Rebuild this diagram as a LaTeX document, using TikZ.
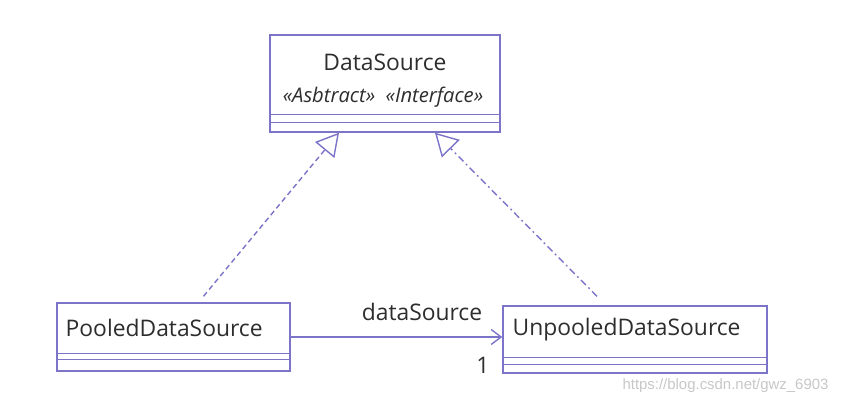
\documentclass[tikz,border=0pt]{standalone}
\usepackage{fontspec}
\setmainfont{Open Sans}
\newfontfamily\marcafont{Liberation Sans}
\usepackage{xcolor}
\usepackage{tikz}
\usetikzlibrary{arrows.meta}

\definecolor{umlazul}{RGB}{123,116,201}
\definecolor{umltexto}{RGB}{45,45,45}

\begin{document}
\begin{tikzpicture}[x=0.02cm, y=-0.02cm, line width=0.8pt,
    clase/.style={draw=umlazul, rectangle, inner sep=0pt},
    separa/.style={draw=umlazul},
    texto/.style={text=umltexto, font=\fontsize{13}{15}\selectfont, inner sep=0pt},
    realiza/.style={draw=umlazul, dash pattern=on 3pt off 2pt, -{Triangle[open, length=0.45cm, width=0.5cm]}},
    asocia/.style={draw=umlazul, -{Straight Barb[length=0.2cm, width=0.3cm]}}]
        \useasboundingbox (0,0) rectangle (843,405);
        % Interfaz (arriba)
        \node[clase, minimum width=4.6cm, minimum height=1.94cm] (dsrc) at (385,83.5) {};
        \draw[separa] ([yshift=0.36cm]dsrc.south west) -- ([yshift=0.36cm]dsrc.south east);
        \draw[separa] ([yshift=0.2cm]dsrc.south west) -- ([yshift=0.2cm]dsrc.south east);
        \node[texto] (dsrcnombre) at (385,62) {DataSource};
        \node[texto, font=\fontsize{11.5}{13}\selectfont\itshape] (dsrcestereo) at (383,97) {«Asbtract» \ «Interface»};
        % Implementaciones (abajo)
        \node[clase, minimum width=4.66cm, minimum height=1.36cm] (pooled) at (173.5,337) {};
        \draw[separa] ([yshift=0.36cm]pooled.south west) -- ([yshift=0.36cm]pooled.south east);
        \draw[separa] ([yshift=0.24cm]pooled.south west) -- ([yshift=0.24cm]pooled.south east);
        \node[texto, anchor=west] (pooledname) at (65,328) {PooledDataSource};
        \node[clase, minimum width=5.28cm, minimum height=1.34cm] (unpooled) at (635,339.5) {};
        \draw[separa] ([yshift=0.32cm]unpooled.south west) -- ([yshift=0.32cm]unpooled.south east);
        \draw[separa] ([yshift=0.18cm]unpooled.south west) -- ([yshift=0.18cm]unpooled.south east);
        \node[texto, anchor=west] (unpooledname) at (512,330) {UnpooledDataSource};
        % Relaciones
        \coordinate (pooledtop) at ([xshift=0.6cm, yshift=0.12cm]pooled.north);
        \coordinate (unpooledtop) at ([xshift=-0.76cm, yshift=0.18cm]unpooled.north);
        \draw[realiza] (pooledtop) -- ([xshift=-0.92cm]dsrc.south);
        \draw[realiza, dash pattern=on 4pt off 2pt on 1pt off 2pt] (unpooledtop) -- ([xshift=1cm]dsrc.south);
        \draw[asocia] (pooled.east) -- (pooled.east -| unpooled.west);
        \node[texto] (rol) at (422,312) {dataSource};
        \node[texto] (mult) at (483,365) {1};
        \node[text=black!22, font=\marcafont\fontsize{8.5}{10}\selectfont, anchor=east] (marca) at (835,386) {https://blog.csdn.net/gwz\_6903};
    \end{tikzpicture}
\end{document}
